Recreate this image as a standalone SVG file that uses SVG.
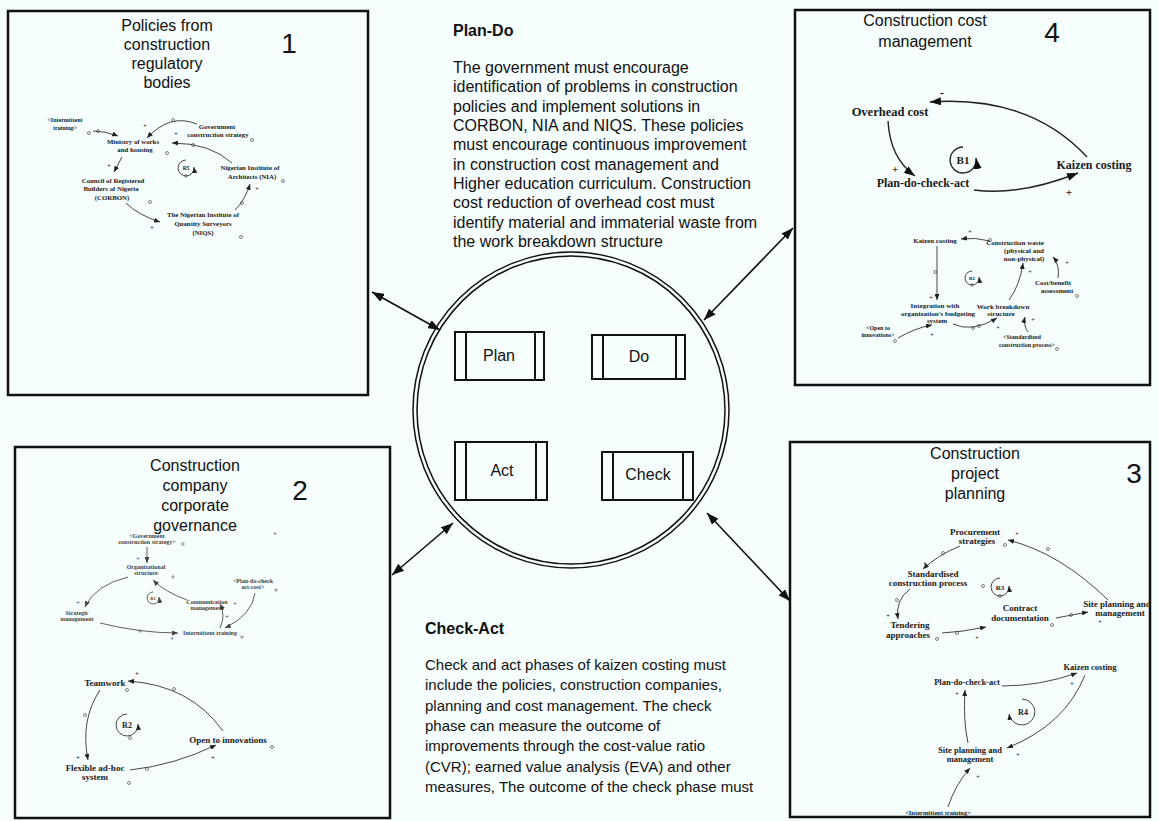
<svg xmlns="http://www.w3.org/2000/svg" width="1159" height="821" viewBox="0 0 1159 821">
<defs>
<style>
.bx{fill:none;stroke:#111;stroke-width:2.5}
.t{font-family:"Liberation Sans",Arial,sans-serif;fill:#111}
.ttl{font-size:16px;text-anchor:middle}
.num{font-size:28px;text-anchor:middle}
.p{font-size:16px}
.pc{font-size:15px}
.b{font-weight:bold}
.s{font-family:"Liberation Serif","Times New Roman",serif;font-weight:bold;fill:#1a1a1a;text-anchor:middle}
.l{fill:none;stroke:#333;stroke-width:0.9;marker-end:url(#a)}
.lm{fill:none;stroke:#222;stroke-width:1.4;marker-end:url(#am)}
.o{fill:none;stroke:#333;stroke-width:0.6}
.con{fill:none;stroke:#111;stroke-width:1.6;marker-start:url(#A);marker-end:url(#A)}
.pb{fill:none;stroke:#111;stroke-width:2}
</style>
<marker id="A" markerUnits="userSpaceOnUse" markerWidth="12" markerHeight="9" refX="12" refY="4.5" orient="auto-start-reverse"><path d="M0,0 L12,4.5 L0,9 z" fill="#111"/></marker>
<marker id="a" markerUnits="userSpaceOnUse" markerWidth="6" markerHeight="5" refX="6" refY="2.5" orient="auto"><path d="M0,0 L6,2.5 L0,5 z" fill="#222"/></marker>
<marker id="am" markerUnits="userSpaceOnUse" markerWidth="11" markerHeight="8" refX="11" refY="4" orient="auto"><path d="M0,0 L11,4 L0,8 z" fill="#111"/></marker>
</defs>
<rect width="1159" height="821" fill="#f5fdfd"/>

<g id="connectors">
<line class="con" x1="372" y1="292" x2="440" y2="330"/>
<line class="con" x1="793" y1="228" x2="704" y2="320"/>
<line class="con" x1="453" y1="523" x2="392" y2="575"/>
<line class="con" x1="707" y1="513" x2="790" y2="601"/>
</g>

<g id="pdca-circle">
<circle cx="571" cy="410" r="158" fill="none" stroke="#111" stroke-width="1.5"/>
<circle cx="571" cy="410" r="154" fill="none" stroke="#111" stroke-width="1.5"/>
</g>
<g id="plan">
<rect class="pb" x="455" y="332" width="89" height="48"/>
<line class="pb" x1="466" y1="332" x2="466" y2="380"/><line class="pb" x1="535" y1="332" x2="535" y2="380"/>
<text class="t" x="499" y="361" font-size="16" text-anchor="middle">Plan</text>
</g>
<g id="do">
<rect class="pb" x="592" y="335" width="93" height="44"/>
<line class="pb" x1="603" y1="335" x2="603" y2="379"/><line class="pb" x1="676" y1="335" x2="676" y2="379"/>
<text class="t" x="639" y="362" font-size="16" text-anchor="middle">Do</text>
</g>
<g id="act">
<rect class="pb" x="455" y="442" width="92" height="58"/>
<line class="pb" x1="466" y1="442" x2="466" y2="500"/><line class="pb" x1="536" y1="442" x2="536" y2="500"/>
<text class="t" x="502" y="476" font-size="16" text-anchor="middle">Act</text>
</g>
<g id="check">
<rect class="pb" x="602" y="452" width="91" height="48"/>
<line class="pb" x1="613" y1="452" x2="613" y2="500"/><line class="pb" x1="683" y1="452" x2="683" y2="500"/>
<text class="t" x="648" y="480" font-size="16" text-anchor="middle">Check</text>
</g>

<g id="plan-do-text">
<text class="t b" x="453" y="36" font-size="16">Plan-Do</text>
<text class="t p" x="453" y="73">The government must encourage</text>
<text class="t p" x="453" y="92">identification of problems in construction</text>
<text class="t p" x="453" y="112">policies and implement solutions in</text>
<text class="t p" x="453" y="131">CORBON, NIA and NIQS. These policies</text>
<text class="t p" x="453" y="150">must encourage continuous improvement</text>
<text class="t p" x="453" y="170">in construction cost management and</text>
<text class="t p" x="453" y="189">Higher education curriculum. Construction</text>
<text class="t p" x="453" y="208">cost reduction of overhead cost must</text>
<text class="t p" x="453" y="228">identify material and immaterial waste from</text>
<text class="t p" x="453" y="247">the work breakdown structure</text>
</g>

<g id="check-act-text">
<text class="t b" x="425" y="634" font-size="16">Check-Act</text>
<text class="t pc" x="425" y="670">Check and act phases of kaizen costing must</text>
<text class="t pc" x="425" y="690">include the policies, construction companies,</text>
<text class="t pc" x="425" y="711">planning and cost management. The check</text>
<text class="t pc" x="425" y="731">phase can measure the outcome of</text>
<text class="t pc" x="425" y="751">improvements through the cost-value ratio</text>
<text class="t pc" x="425" y="772">(CVR); earned value analysis (EVA) and other</text>
<text class="t pc" x="425" y="792">measures, The outcome of the check phase must</text>
</g>

<!-- Box 1 -->
<g id="box1">
<rect class="bx" x="8" y="11" width="360" height="384"/>
<text class="t ttl" x="167" y="31">Policies from</text>
<text class="t ttl" x="167" y="50">construction</text>
<text class="t ttl" x="167" y="69">regulatory</text>
<text class="t ttl" x="167" y="88">bodies</text>
<text class="t num" x="289" y="53">1</text>
<g font-size="6.8">
<text class="s" x="65" y="122" font-size="6">&lt;Intermittent</text>
<text class="s" x="65" y="130" font-size="6">training&gt;</text>
<text class="s" x="133" y="144">Ministry of works</text>
<text class="s" x="135" y="152">and housing</text>
<text class="s" x="217" y="129">Government</text>
<text class="s" x="218" y="137">construction strategy</text>
<text class="s" x="250" y="170">Nigerian Institute of</text>
<text class="s" x="252" y="179">Architects (NIA)</text>
<text class="s" x="113" y="183">Council of Registered</text>
<text class="s" x="111" y="191">Builders of Nigeria</text>
<text class="s" x="112" y="200">(CORBON)</text>
<text class="s" x="203" y="217">The Nigerian Institute of</text>
<text class="s" x="203" y="226">Quantity Surveyors</text>
<text class="s" x="203" y="235">(NIQS)</text>
<text class="s" x="186" y="170" font-size="5.5">R5</text>
<text class="s" x="145" y="128" font-size="6">+</text>
<text class="s" x="176" y="136" font-size="6">+</text>
<text class="s" x="109" y="168" font-size="6">+</text>
<text class="s" x="152" y="230" font-size="6">+</text>
<text class="s" x="257" y="191" font-size="6">+</text>
</g>
<path class="l" d="M93,131 Q105,131 118,136"/>
<path class="l" d="M197,124 Q170,113 147,138"/>
<path class="l" d="M232,163 Q210,143 172,143"/>
<path class="l" d="M122,157 L114,172"/>
<path class="l" d="M126,203 Q138,215 160,222"/>
<path class="l" d="M235,210 Q245,200 250,184"/>
<path class="l" d="M186,160 A8,8 0 1 0 194,167"/>
<circle class="o" cx="89" cy="133" r="1.5"/><circle class="o" cx="98" cy="131" r="1.5"/>
<circle class="o" cx="252" cy="140" r="1.5"/><circle class="o" cx="173" cy="120" r="1.5"/>
<circle class="o" cx="193" cy="145" r="1.5"/><circle class="o" cx="167" cy="153" r="1.5"/>
<circle class="o" cx="283" cy="181" r="1.5"/><circle class="o" cx="150" cy="202" r="1.5"/>
<circle class="o" cx="241" cy="237" r="1.5"/><circle class="o" cx="242" cy="203" r="1.5"/>
<circle class="o" cx="186" cy="176" r="1.2"/>
</g>

<!-- Box 4 -->
<g id="box4">
<rect class="bx" x="795" y="10" width="355" height="375"/>
<text class="t ttl" x="925" y="26">Construction cost</text>
<text class="t ttl" x="925" y="47">management</text>
<text class="t num" x="1052" y="42">4</text>
<text class="s" x="890" y="116" font-size="12.5">Overhead cost</text>
<text class="s" x="1094" y="169" font-size="12">Kaizen costing</text>
<text class="s" x="923" y="187" font-size="12">Plan-do-check-act</text>
<text class="s" x="942" y="97" font-size="12">-</text>
<text class="s" x="895" y="173" font-size="10">+</text>
<text class="s" x="1069" y="196" font-size="11">+</text>
<text class="s" x="963" y="164" font-size="11">B1</text>
<path class="lm" d="M1087,157 Q1030,95 930,102"/>
<path class="lm" d="M888,121 Q890,158 915,176"/>
<path class="lm" d="M974,190 Q1020,196 1078,173"/>
<path class="lm" d="M963,147 A13,13 0 1 0 976,158" stroke-width="1.2"/>
<g font-size="7">
<text class="s" x="935" y="243">Kaizen costing</text>
<text class="s" x="1015" y="245">Construction waste</text>
<text class="s" x="1024" y="253">(physical and</text>
<text class="s" x="1024" y="261">non-physical)</text>
<text class="s" x="1053" y="285">Cost/benefit</text>
<text class="s" x="1057" y="293">assessment</text>
<text class="s" x="935" y="308">Integration with</text>
<text class="s" x="938" y="316">organization's budgeting</text>
<text class="s" x="937" y="323">system</text>
<text class="s" x="1003" y="309">Work breakdown</text>
<text class="s" x="1001" y="316">structure</text>
<text class="s" x="878" y="330" font-size="6">&lt;Open to</text>
<text class="s" x="878" y="337" font-size="6">innovations&gt;</text>
<text class="s" x="1022" y="339" font-size="6">&lt;Standardized</text>
<text class="s" x="1027" y="347" font-size="6">construction process&gt;</text>
<text class="s" x="972" y="280" font-size="5">B2</text>
<text class="s" x="970" y="234" font-size="6">+</text>
<text class="s" x="1067" y="265" font-size="6">+</text>
<text class="s" x="931" y="300" font-size="6">+</text>
<text class="s" x="998" y="330" font-size="6">+</text>
<text class="s" x="1030" y="274" font-size="6">+</text>
<text class="s" x="932" y="337" font-size="6">+</text>
<text class="s" x="1033" y="322" font-size="6">+</text>
</g>
<path class="l" d="M990,241 Q975,237 961,239"/>
<path class="l" d="M1058,278 Q1060,265 1053,257"/>
<path class="l" d="M937,246 L937,300"/>
<path class="l" d="M953,324 Q972,333 997,318"/>
<path class="l" d="M1009,300 Q1020,285 1023,263"/>
<path class="l" d="M898,338 Q915,328 932,325"/>
<path class="l" d="M1028,332 Q1023,325 1025,317"/>
<path class="l" d="M972,271 A7,7 0 1 0 979,277"/>
<circle class="o" cx="990" cy="240" r="1.5"/><circle class="o" cx="1077" cy="296" r="1.5"/>
<circle class="o" cx="935" cy="272" r="1.5"/><circle class="o" cx="973" cy="328" r="1.5"/>
<circle class="o" cx="979" cy="326" r="1.5"/><circle class="o" cx="895" cy="341" r="1.5"/>
<circle class="o" cx="1057" cy="349" r="1.5"/><circle class="o" cx="972" cy="285" r="1.2"/>
</g>

<!-- Box 2 -->
<g id="box2">
<rect class="bx" x="15" y="447" width="375" height="371"/>
<text class="t ttl" x="195" y="471">Construction</text>
<text class="t ttl" x="195" y="491">company</text>
<text class="t ttl" x="195" y="511">corporate</text>
<text class="t ttl" x="195" y="531">governance</text>
<text class="t num" x="300" y="500">2</text>
<g font-size="6" opacity="0.85">
<text class="s" x="147" y="538">&lt;Government</text>
<text class="s" x="147" y="544">construction strategy&gt;</text>
<text class="s" x="146" y="569">Organizational</text>
<text class="s" x="146" y="575">structure</text>
<text class="s" x="77" y="615">Strategic</text>
<text class="s" x="77" y="621">management</text>
<text class="s" x="210" y="635">Intermittent training</text>
<text class="s" x="207" y="604">Communication</text>
<text class="s" x="207" y="610">management</text>
<text class="s" x="253" y="583">&lt;Plan-do-check</text>
<text class="s" x="253" y="589">act-cost&gt;</text>
<text class="s" x="153" y="600" font-size="4.5">R1</text>
<text class="s" x="138" y="561">+</text>
<text class="s" x="78" y="605">+</text>
<text class="s" x="172" y="641">+</text>
<text class="s" x="227" y="619">+</text>
<text class="s" x="235" y="606">+</text>
<text class="s" x="275" y="536">+</text>
</g>
<g opacity="0.85">
<path class="l" d="M147,547 L147,563"/>
<path class="l" d="M128,577 Q95,585 85,607"/>
<path class="l" d="M100,623 Q140,633 178,633"/>
<path class="l" d="M220,628 Q226,615 220,604"/>
<path class="l" d="M187,600 Q165,592 153,580"/>
<path class="l" d="M255,593 Q252,615 225,628"/>
<path class="l" d="M153,592 A6,6 0 1 0 159,597"/>
<circle class="o" cx="183" cy="544" r="1.2"/><circle class="o" cx="173" cy="577" r="1.2"/>
<circle class="o" cx="140" cy="631" r="1.2"/><circle class="o" cx="242" cy="637" r="1.2"/>
<circle class="o" cx="276" cy="590" r="1.2"/>
</g>
<text class="s" x="105" y="686" font-size="9">Teamwork</text>
<text class="s" x="95" y="771" font-size="9">Flexible ad-hoc</text>
<text class="s" x="95" y="780" font-size="9">system</text>
<text class="s" x="228" y="743" font-size="9">Open to innovations</text>
<text class="s" x="127" y="728" font-size="8">R2</text>
<text class="s" x="137" y="676" font-size="7">+</text>
<text class="s" x="78" y="760" font-size="7">+</text>
<text class="s" x="213" y="760" font-size="7">+</text>
<path class="l" d="M223,731 Q190,685 128,681"/>
<path class="l" d="M100,690 Q80,720 88,760"/>
<path class="l" d="M130,770 Q175,765 216,745"/>
<path class="l" d="M127,714 A11,11 0 1 0 138,724"/>
<circle class="o" cx="127" cy="690" r="1.5"/><circle class="o" cx="174" cy="689" r="1.5"/>
<circle class="o" cx="85" cy="715" r="1.5"/><circle class="o" cx="129" cy="783" r="1.5"/>
<circle class="o" cx="147" cy="769" r="1.5"/><circle class="o" cx="272" cy="747" r="1.5"/>
<circle class="o" cx="130" cy="738" r="1.5"/>
</g>

<!-- Box 3 -->
<g id="box3">
<rect class="bx" x="790" y="442" width="360" height="375"/>
<text class="t ttl" x="975" y="459">Construction</text>
<text class="t ttl" x="975" y="479">project</text>
<text class="t ttl" x="975" y="499">planning</text>
<text class="t num" x="1134" y="483">3</text>
<g font-size="9">
<text class="s" x="975" y="535">Procurement</text>
<text class="s" x="977" y="544">strategies</text>
<text class="s" x="1117" y="607">Site planning and</text>
<text class="s" x="1120" y="616">management</text>
<text class="s" x="933" y="577">Standardised</text>
<text class="s" x="928" y="586">construction process</text>
<text class="s" x="910" y="628">Tendering</text>
<text class="s" x="908" y="638">approaches</text>
<text class="s" x="1020" y="611">Contract</text>
<text class="s" x="1020" y="621">documentation</text>
<text class="s" x="1000" y="590" font-size="7">R3</text>
<text class="s" x="1017" y="536" font-size="6">+</text>
<text class="s" x="925" y="566" font-size="6">+</text>
<text class="s" x="888" y="618" font-size="6">+</text>
<text class="s" x="977" y="640" font-size="6">+</text>
<text class="s" x="1100" y="624" font-size="6">+</text>
</g>
<path class="l" d="M1108,600 Q1060,553 1008,540"/>
<path class="l" d="M960,546 Q938,555 923,569"/>
<path class="l" d="M910,589 Q895,600 898,619"/>
<path class="l" d="M942,633 Q962,632 986,627"/>
<path class="l" d="M1056,618 Q1072,615 1088,612"/>
<path class="l" d="M1000,578 A9,9 0 1 0 1009,586"/>
<circle class="o" cx="1005" cy="545" r="1.5"/><circle class="o" cx="1048" cy="549" r="1.5"/>
<circle class="o" cx="943" cy="553" r="1.5"/><circle class="o" cx="983" cy="586" r="1.5"/>
<circle class="o" cx="897" cy="600" r="1.5"/><circle class="o" cx="937" cy="639" r="1.5"/>
<circle class="o" cx="957" cy="633" r="1.5"/><circle class="o" cx="1052" cy="625" r="1.5"/>
<circle class="o" cx="1071" cy="615" r="1.5"/><circle class="o" cx="1000" cy="596" r="1.5"/>
<g font-size="8.5">
<text class="s" x="967" y="685">Plan-do-check-act</text>
<text class="s" x="1090" y="670">Kaizen costing</text>
<text class="s" x="970" y="753">Site planning and</text>
<text class="s" x="970" y="762">management</text>
<text class="s" x="1023" y="715" font-size="8">R4</text>
<text class="s" x="938" y="815" font-size="6.5" font-weight="normal" fill="#7a7a9a">&lt;Intermittent training&gt;</text>
<text class="s" x="1072" y="686" font-size="6">+</text>
<text class="s" x="1018" y="757" font-size="6">+</text>
<text class="s" x="957" y="696" font-size="6">+</text>
<text class="s" x="978" y="779" font-size="6">+</text>
</g>
<path class="l" d="M1002,686 Q1040,686 1077,673"/>
<path class="l" d="M1085,675 Q1065,725 1007,748"/>
<path class="l" d="M968,743 Q963,720 965,690"/>
<path class="l" d="M948,807 Q955,785 970,768"/>
<path class="l" d="M1022,699 A13,13 0 1 1 1009,714" stroke="#555"/>
</g>
</svg>
